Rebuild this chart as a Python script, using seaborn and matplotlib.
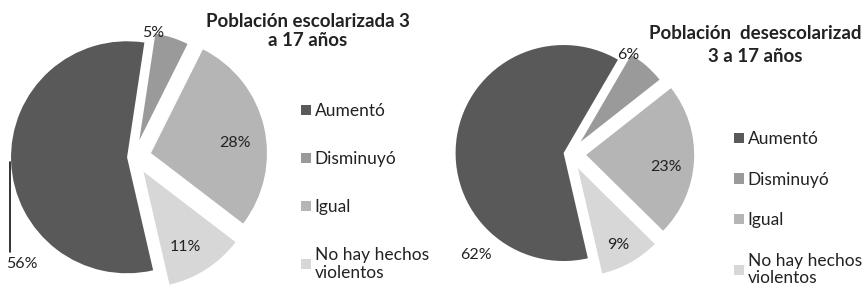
import matplotlib
matplotlib.use("Agg")
import matplotlib.pyplot as plt
import seaborn as sns

sns.set_theme(style="white")
plt.rcParams["font.family"] = ["Lato", "DejaVu Sans"]

categorias = ["Aumentó", "Disminuyó", "Igual", "No hay hechos\nviolentos"]
escolarizada = [56, 5, 28, 11]
desescolarizada = [62, 6, 23, 9]
titulos = ["Población escolarizada 3\na 17 años", "Población  desescolarizad\n3 a 17 años"]
colores = ["#595959", "#9a9a9a", "#b5b5b5", "#d7d7d7"]
explode = [0.06, 0.15, 0.15, 0.15]

W, H = 866, 289
fig = plt.figure(figsize=(W / 100, H / 100), dpi=100)
SPAN = 1.45
TXT = "#222222"


def pie_axes(cx, cy, r):
    s = SPAN * r
    return fig.add_axes([(cx - s) / W, (H - cy - s) / H, 2 * s / W, 2 * s / H])


def draw(ax, values, pos):
    wedges, texts, autotexts = ax.pie(
        values, colors=colores, explode=explode, startangle=-77,
        counterclock=False, autopct="%d%%",
        wedgeprops={"linewidth": 0}, textprops={"fontsize": 11.5, "color": TXT})
    wedges[1].set_radius(0.93)
    # Excel-style label placement
    for t, p in zip(autotexts, pos):
        t.set_position(p)
    ax.set_xlim(-SPAN, SPAN)
    ax.set_ylim(-SPAN, SPAN)
    return wedges


# pie 1
ax1 = pie_axes(134, 157, 116)
w1 = draw(ax1, escolarizada, [(-0.966, -0.922), (0.164, 1.069), (0.871, 0.121), (0.44, -0.776)])
ax1.plot([-1.069, -1.069], [-0.043, -0.819], color="#111111", lw=1.2)

# pie 2
ax2 = pie_axes(570, 154, 108)
w2 = draw(ax2, desescolarizada, [(-0.87, -0.935), (0.537, 0.917), (0.889, -0.12), (0.444, -0.843)])

fig.text(308 / W, 1 - 31 / H, titulos[0], ha="center", va="center",
         fontsize=13.5, fontweight="bold", color=TXT, linespacing=1.2)
fig.text(755 / W, 1 - 45 / H, titulos[1], ha="center", va="center",
         fontsize=13.5, fontweight="bold", color=TXT, linespacing=1.38)

leg_kw = dict(frameon=False, handlelength=0.58, handleheight=0.52, handletextpad=0.2,
              fontsize=12.5, loc="upper left", bbox_transform=fig.transFigure,
              labelcolor=TXT, borderpad=0, borderaxespad=0)
l1 = fig.legend(w1, categorias, bbox_to_anchor=(301 / W, 1 - 103 / H), labelspacing=1.85, **leg_kw)
l2 = fig.legend(w2, categorias, bbox_to_anchor=(734 / W, 1 - 131 / H), labelspacing=1.42, **leg_kw)
for leg in (l1, l2):
    for t in leg.get_texts():
        t.set_linespacing(1.1)

fig.savefig("out.png", dpi=100)
